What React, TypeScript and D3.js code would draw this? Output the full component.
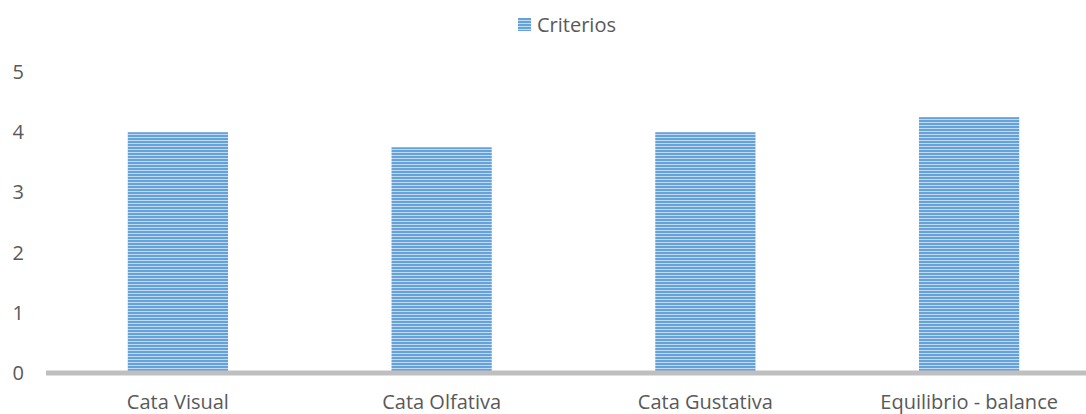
import React, { useEffect, useRef } from "react";
import * as d3 from "d3";

// Chart data
const categories: string[] = ["Cata Visual", "Cata Olfativa", "Cata Gustativa", "Equilibrio - balance"];
const criteriosValues: number[] = [4, 3.75, 4, 4.25];
const yTicks: number[] = [0, 1, 2, 3, 4, 5];
const seriesName = "Criterios";

const WIDTH = 1086;
const HEIGHT = 414;
const FONT = "'Open Sans', 'Noto Sans', sans-serif";
const TEXT_COLOR = "#595959";

export default function App() {
  const ref = useRef<SVGSVGElement | null>(null);

  useEffect(() => {
    const svg = d3.select(ref.current);
    svg.selectAll("*").remove();

    // Horizontal-stripe fill pattern for the series
    const defs = svg.append("defs");
    const pat = defs
      .append("pattern")
      .attr("id", "stripes")
      .attr("patternUnits", "userSpaceOnUse")
      .attr("width", 6)
      .attr("height", 3);
    pat.append("rect").attr("x", 0).attr("y", 0).attr("width", 6).attr("height", 3).attr("fill", "#C2DAF1");
    pat.append("rect").attr("x", 0).attr("y", 0).attr("width", 6).attr("height", 2).attr("fill", "#66A2DA");

    const x = d3
      .scaleBand<string>()
      .domain(categories)
      .range([46, 1101])
      .paddingInner(0.62)
      .paddingOuter(0.31);

    const y = d3.scaleLinear().domain([0, 5]).range([373, 72]);

    // Bars
    svg
      .append("g")
      .selectAll("rect")
      .data(criteriosValues)
      .join("rect")
      .attr("x", (_d, i) => x(categories[i]) as number)
      .attr("width", x.bandwidth())
      .attr("y", (d) => y(d))
      .attr("height", (d) => y(0) - y(d))
      .attr("fill", "url(#stripes)");

    // Category axis line
    svg
      .append("line")
      .attr("x1", 46)
      .attr("x2", WIDTH)
      .attr("y1", y(0))
      .attr("y2", y(0))
      .attr("stroke", "#BFBFBF")
      .attr("stroke-width", 5);

    // Value axis labels
    svg
      .append("g")
      .selectAll("text")
      .data(yTicks)
      .join("text")
      .attr("x", 24)
      .attr("y", (d) => y(d))
      .attr("dy", "0.35em")
      .attr("text-anchor", "end")
      .attr("font-family", FONT)
      .attr("font-size", 20)
      .attr("fill", TEXT_COLOR)
      .text((d) => String(d));

    // Category labels
    svg
      .append("g")
      .selectAll("text")
      .data(categories)
      .join("text")
      .attr("x", (d) => (x(d) as number) + x.bandwidth() / 2)
      .attr("y", 409)
      .attr("text-anchor", "middle")
      .attr("font-family", FONT)
      .attr("font-size", 20)
      .attr("fill", TEXT_COLOR)
      .text((d) => d);

    // Legend
    const legend = svg.append("g");
    legend
      .append("rect")
      .attr("x", 518)
      .attr("y", 18)
      .attr("width", 13)
      .attr("height", 13)
      .attr("fill", "url(#stripes)");
    legend
      .append("text")
      .attr("x", 537)
      .attr("y", 24.5)
      .attr("dy", "0.35em")
      .attr("font-family", FONT)
      .attr("font-size", 20)
      .attr("fill", TEXT_COLOR)
      .text(seriesName);
  }, []);

  return (
    <svg
      ref={ref}
      width={WIDTH}
      height={HEIGHT}
      style={{ position: "absolute", left: 0, top: 0, background: "#fff" }}
    />
  );
}
